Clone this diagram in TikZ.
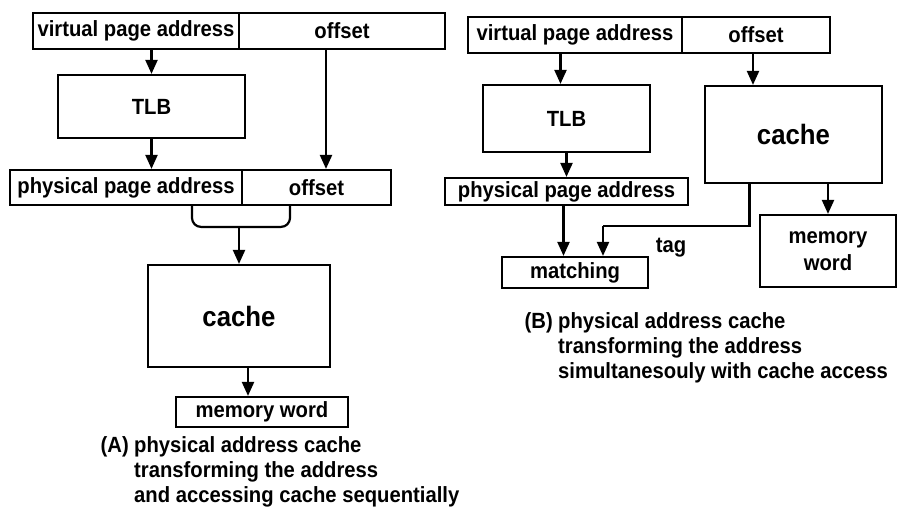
\documentclass[tikz,border=0pt]{standalone}
\usepackage{fontspec}
\setmainfont{Liberation Sans}[FakeStretch=0.92]
\usetikzlibrary{arrows.meta,calc}

\begin{document}
\begin{tikzpicture}[x=1pt,y=-1pt,
  box/.style={draw,line width=2.2pt,rectangle,inner sep=0pt,
    font=\fontsize{22}{27}\selectfont\bfseries},
  bigtext/.style={font=\fontsize{28}{30}\selectfont\bfseries},
  arr/.style={line width=2.2pt,-{Triangle[length=14pt,width=12pt]}},
  wire/.style={line width=2.2pt},
  caption/.style={inner sep=0pt,font=\fontsize{22}{25}\selectfont\bfseries}
]
\useasboundingbox (0,0) rectangle (898,515);

% ---------------- (A) sequential translation ----------------
\node[box,minimum width=206pt,minimum height=36pt] (vpaA) at (136,31) {virtual page address};
\node[box,minimum width=206pt,minimum height=36pt] (offA) at (342,31) {offset};
\node[box,minimum width=187pt,minimum height=63pt] (tlbA) at (151.5,106.5) {TLB};
\node[box,minimum width=232pt,minimum height=35pt] (ppaA) at (126,187.5) {physical page address};
\node[box,minimum width=149pt,minimum height=35pt] (offA2) at (316.5,187.5) {offset};
\node[box,bigtext,minimum width=182pt,minimum height=102pt] (cacheA) at (239,316) {cache};
\node[box,minimum width=172pt,minimum height=30pt] (memA) at (262,412) {memory word};

\draw[arr] (vpaA.south -| tlbA.north) -- (tlbA.north);
\draw[arr] (tlbA.south) -- (tlbA.south |- ppaA.north);
\draw[arr] ([xshift=-16pt]offA.south) -- ([xshift=-16pt]offA.south |- offA2.north);

% bracket joining both address fields into the cache
\coordinate (bl) at ($(ppaA.south)+(66,0)$);
\coordinate (br) at ($(offA2.south)+(-26.5,0)$);
\coordinate (bm) at ($(cacheA.north)+(0,-37)$);
\draw[wire,rounded corners=9pt] (bl) |- (bm) -| (br);
\draw[arr] (bm) -- (cacheA.north);
\draw[arr] ([xshift=9pt]cacheA.south) -- ([xshift=9pt]cacheA.south |- memA.north);

\node[caption,anchor=base east] (labA) at (129,452) {(A)};
\node[caption,anchor=base west] (capA1) at (134,452) {physical address cache};
\node[caption,anchor=base west] (capA2) at (134,477) {transforming the address};
\node[caption,anchor=base west] (capA3) at (134,502) {and accessing cache sequentially};

% ---------------- (B) parallel translation ----------------
\node[box,minimum width=214pt,minimum height=36pt] (vpaB) at (575,35) {virtual page address};
\node[box,minimum width=148pt,minimum height=36pt] (offB) at (756,35) {offset};
\node[box,minimum width=167pt,minimum height=67pt] (tlbB) at (566.5,118.5) {TLB};
\node[box,minimum width=243pt,minimum height=27pt] (ppaB) at (566.5,191.5) {physical page address};
\node[box,bigtext,minimum width=177pt,minimum height=97pt] (cacheB) at (793.5,134.5) {cache};
\node[box,align=center,minimum width=136pt,minimum height=72pt] (memB) at (828,251) {memory\\word};
\node[box,minimum width=146pt,minimum height=31pt] (matchB) at (575,272.5) {matching};
\node[caption,anchor=base] (tagB) at (671,252) {tag};

\draw[arr] ([xshift=-6pt]tlbB.north |- vpaB.south) -- ([xshift=-6pt]tlbB.north);
\draw[arr] (tlbB.south) -- (tlbB.south |- ppaB.north);
\draw[arr] ([xshift=-3pt]offB.south) -- ([xshift=-3pt]offB.south |- cacheB.north);
\draw[arr] (memB.north |- cacheB.south) -- (memB.north);
\draw[arr] ([xshift=-3pt]ppaB.south) -- ([xshift=-3pt]ppaB.south |- matchB.north);

\coordinate (tagc) at ($(matchB.north)+(28,-30)$);
\draw[wire] ([xshift=-44pt]cacheB.south) |- (tagc);
\draw[arr] (tagc) -- (tagc |- matchB.north);

\node[caption,anchor=base east] (labB) at (553,328) {(B)};
\node[caption,anchor=base west] (capB1) at (558,328) {physical address cache};
\node[caption,anchor=base west] (capB2) at (558,353) {transforming the address};
\node[caption,anchor=base west] (capB3) at (558,378) {simultanesouly with cache access};
\end{tikzpicture}
\end{document}
